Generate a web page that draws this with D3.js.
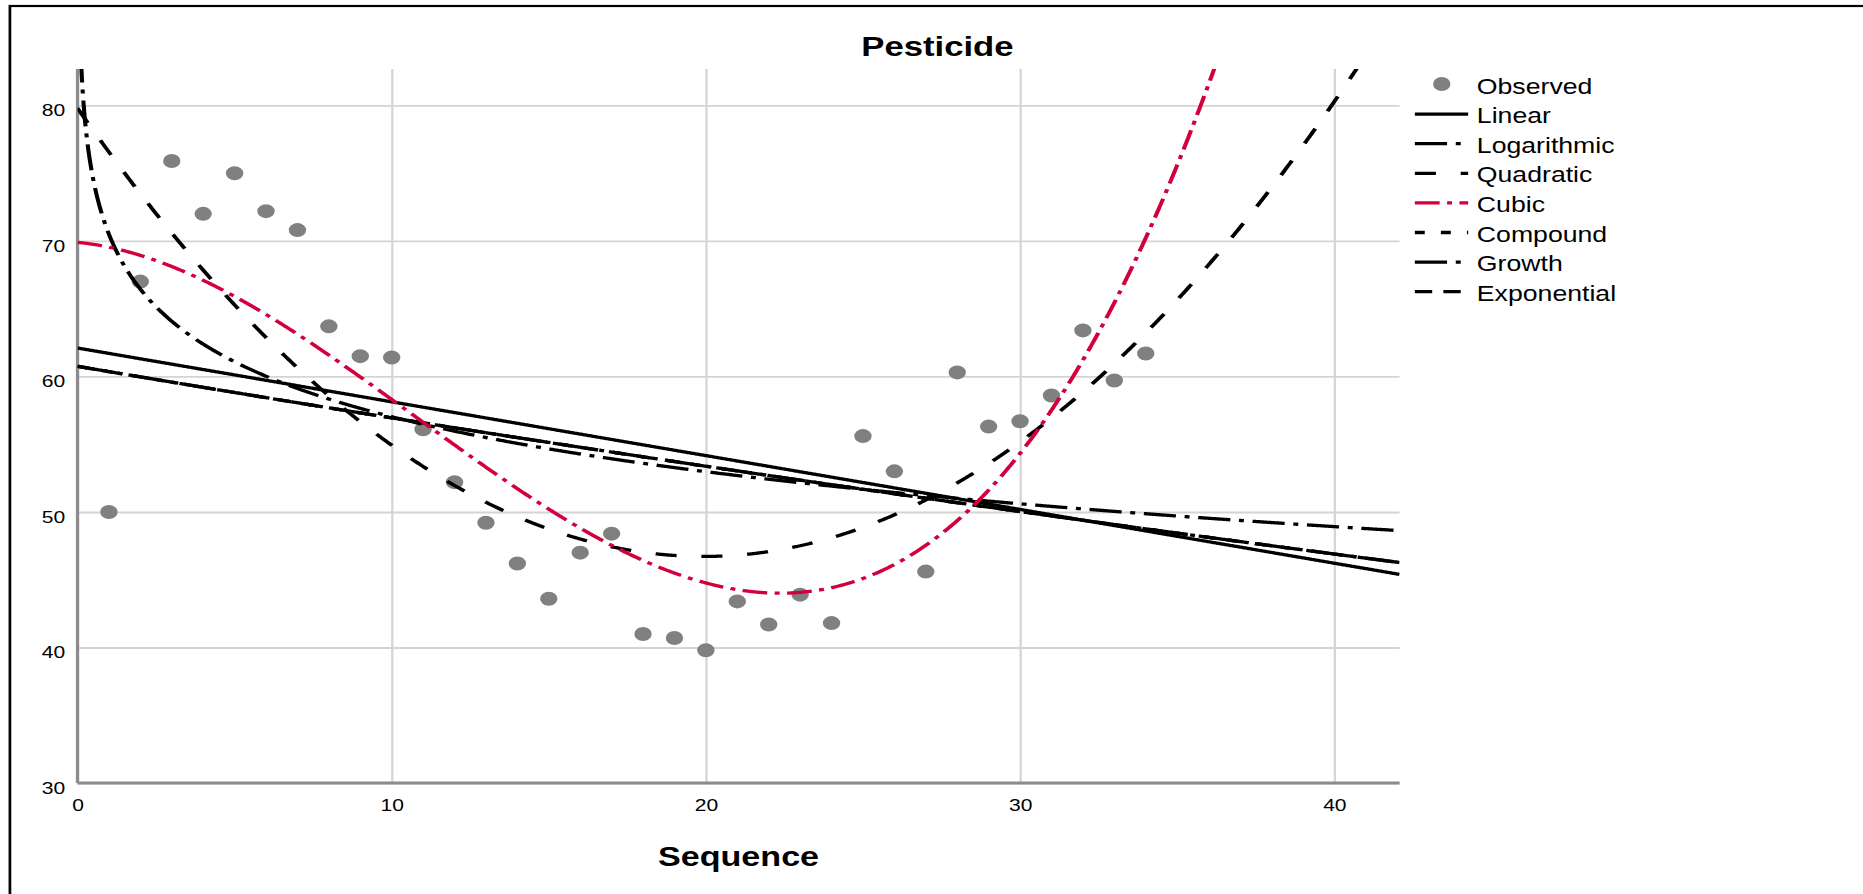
<!DOCTYPE html>
<html>
<head>
<meta charset="utf-8">
<title>Pesticide</title>
<script src="https://cdn.jsdelivr.net/npm/d3@7"></script>
<style>
    html, body { margin: 0; padding: 0; background: #fff; }
    #chart-area { width: 1863px; height: 894px; }
    svg text { font-family: Arial, "Liberation Sans", sans-serif; fill: #000; }
</style>
</head>
<body>
<div id="chart-area"></div>
<script>

// observed pesticide values, one per sequence step
const sequence = [1, 2, 3, 4, 5, 6, 7, 8, 9, 10, 11, 12, 13, 14, 15, 16, 17,
                  18, 19, 20, 21, 22, 23, 24, 25, 26, 27, 28, 29, 30, 31, 32, 33, 34];
const observed = [50.0, 67.0, 75.9, 72.0, 75.0, 72.2, 70.8, 63.7, 61.5, 61.4,
                  56.1, 52.2, 49.2, 46.2, 43.6, 47.0, 48.4, 41.0, 40.7, 39.8,
                  43.4, 41.7, 43.9, 41.8, 55.6, 53.0, 45.6, 60.3, 56.3, 56.7,
                  58.6, 63.4, 59.7, 61.7];

// curve estimation coefficients
const linearCoef = [62.1, -0.397];                      // b0 + b1*t
const logCoef = [70.5, -5.85];                          // b0 + b1*ln(t)
const quadraticCoef = [79.8, -3.32, 0.0833];            // b0 + b1*t + b2*t^2
const cubicCoef = [69.9, -0.228, -0.1349, 0.004173];    // b0 + b1*t + b2*t^2 + b3*t^3
const compoundCoef = [60.75, 0.99355];                  // b0 * b1^t
const growthCoef = [4.1068, -0.00647];                  // exp(b0 + b1*t)
const exponentialCoef = [60.75, -0.00647];              // b0 * exp(b1*t)

const models = ["Linear", "Logarithmic", "Quadratic", "Cubic", "Compound", "Growth", "Exponential"];
const xTicks = [0, 10, 20, 30, 40];
const yTicks = [30, 40, 50, 60, 70, 80];


class CurveFitChart {

    constructor(parentElement) {
        this.parentElement = parentElement;
        this.styles = {
            Linear: {color: "#000", dash: null},
            Logarithmic: {color: "#000", dash: "26,7,4,7"},
            Quadratic: {color: "#000", dash: "17,20"},
            Cubic: {color: "#d2003c", dash: "20,6,4,6"},
            Compound: {color: "#000", dash: "8,13"},
            Growth: {color: "#000", dash: "26,7,4,7"},
            Exponential: {color: "#000", dash: "14,9"}
        };

        this.initVis();
    }

    initVis() {
        let vis = this;

        vis.outerWidth = 1863;
        vis.outerHeight = 894;
        // the exported chart is stretched sideways, so draw in narrower units and let the viewBox widen it
        vis.stretch = 1.24;
        vis.viewWidth = vis.outerWidth / vis.stretch;

        vis.margin = {top: 69, right: vis.viewWidth - 1128.7, bottom: 111, left: 62.5};
        vis.width = vis.viewWidth - vis.margin.left - vis.margin.right;
        vis.height = vis.outerHeight - vis.margin.top - vis.margin.bottom;

        vis.root = d3.select("#" + vis.parentElement).append("svg")
            .attr("width", vis.outerWidth)
            .attr("height", vis.outerHeight)
            .attr("viewBox", `0 0 ${vis.viewWidth} ${vis.outerHeight}`)
            .attr("preserveAspectRatio", "none");

        // outer frame, only left and top edges fall inside the picture
        vis.root.append("rect")
            .attr("x", 8)
            .attr("y", 6)
            .attr("width", 3000)
            .attr("height", 3000)
            .attr("fill", "none")
            .attr("stroke", "#000")
            .attr("stroke-width", 2.2);

        vis.root.append("text")
            .attr("x", 756)
            .attr("y", 56.5)
            .attr("text-anchor", "middle")
            .attr("font-size", 28)
            .attr("font-weight", "bold")
            .text("Pesticide");

        vis.svg = vis.root.append("g")
            .attr("transform", `translate(${vis.margin.left}, ${vis.margin.top})`);

        vis.svg.append("clipPath")
            .attr("id", "plot-clip")
            .append("rect")
            .attr("width", vis.width)
            .attr("height", vis.height);

        // Scales and axes
        vis.x = d3.scaleLinear()
            .domain([0, 42.08])
            .range([0, vis.width]);
        vis.y = d3.scaleLinear()
            .domain([30, 82.69])
            .range([vis.height, 0]);

        vis.xAxis = d3.axisBottom(vis.x)
            .tickValues(xTicks)
            .tickFormat(d3.format("d"))
            .tickSize(-vis.height)
            .tickPadding(16);
        vis.yAxis = d3.axisLeft(vis.y)
            .tickValues(yTicks)
            .tickFormat(d3.format("d"))
            .tickSize(-vis.width)
            .tickPadding(10);

        vis.svg.append("g")
            .attr("class", "x-axis")
            .attr("transform", `translate(0, ${vis.height})`)
            .call(vis.xAxis);
        vis.svg.append("g")
            .attr("class", "y-axis")
            .call(vis.yAxis);

        vis.svg.selectAll(".x-axis .domain, .y-axis .domain").remove();
        vis.svg.selectAll(".x-axis .tick line, .y-axis .tick line")
            .attr("stroke", "#d4d4d4")
            .attr("stroke-width", 1.8);
        vis.svg.selectAll(".x-axis text, .y-axis text")
            .attr("font-size", 17)
            .attr("font-family", "Arial, 'Liberation Sans', sans-serif")
            .attr("fill", "#000");
        vis.svg.selectAll(".y-axis text").attr("dy", "0.6em");

        // left and bottom axis lines
        vis.svg.append("line")
            .attr("x1", vis.x(0)).attr("x2", vis.x(0))
            .attr("y1", 0).attr("y2", vis.height)
            .attr("stroke", "#8c8c8c").attr("stroke-width", 2.6);
        vis.svg.append("line")
            .attr("x1", vis.x(0)).attr("x2", vis.width)
            .attr("y1", vis.height).attr("y2", vis.height)
            .attr("stroke", "#8c8c8c").attr("stroke-width", 3);

        vis.svg.append("text")
            .attr("x", vis.width / 2)
            .attr("y", vis.height + 83)
            .attr("text-anchor", "middle")
            .attr("font-size", 27.5)
            .attr("font-weight", "bold")
            .text("Sequence");

        vis.wrangleData();
    }

    wrangleData() {
        let vis = this;

        vis.points = sequence.map((t, i) => ({t: t, value: observed[i]}));

        let fits = {
            Linear: t => linearCoef[0] + linearCoef[1] * t,
            Logarithmic: t => logCoef[0] + logCoef[1] * Math.log(t),
            Quadratic: t => quadraticCoef[0] + quadraticCoef[1] * t + quadraticCoef[2] * t * t,
            Cubic: t => cubicCoef[0] + cubicCoef[1] * t + cubicCoef[2] * t * t + cubicCoef[3] * t * t * t,
            Compound: t => compoundCoef[0] * Math.pow(compoundCoef[1], t),
            Growth: t => Math.exp(growthCoef[0] + growthCoef[1] * t),
            Exponential: t => exponentialCoef[0] * Math.exp(exponentialCoef[1] * t)
        };

        let tMax = vis.x.domain()[1];
        let steps = d3.range(0, 1201).map(i => tMax * i / 1200);

        vis.curves = models.map(name => ({
            name: name,
            values: steps.filter(t => name !== "Logarithmic" || t > 0)
                .map(t => ({t: t, value: fits[name](t)}))
        }));

        vis.updateVis();
    }

    updateVis() {
        let vis = this;

        vis.svg.selectAll(".obs")
            .data(vis.points)
            .enter().append("circle")
            .attr("class", "obs")
            .attr("cx", d => vis.x(d.t))
            .attr("cy", d => vis.y(d.value))
            .attr("r", 7)
            .attr("fill", "#808080");

        let line = d3.line()
            .x(d => vis.x(d.t))
            .y(d => vis.y(d.value));

        // red cubic goes on top, like in the export
        let drawOrder = vis.curves.filter(c => c.name !== "Cubic")
            .concat(vis.curves.filter(c => c.name === "Cubic"));

        vis.svg.append("g")
            .attr("clip-path", "url(#plot-clip)")
            .selectAll(".fit")
            .data(drawOrder)
            .enter().append("path")
            .attr("class", "fit")
            .attr("d", d => line(d.values))
            .attr("fill", "none")
            .attr("stroke", d => vis.styles[d.name].color)
            .attr("stroke-width", 3.3)
            .attr("stroke-dasharray", d => vis.styles[d.name].dash);

        // legend
        let legend = vis.root.append("g")
            .attr("transform", "translate(1141, 86)");
        let rowH = 29.6;

        legend.append("circle")
            .attr("cx", 21.7)
            .attr("cy", -2)
            .attr("r", 7)
            .attr("fill", "#808080");

        let labels = ["Observed"].concat(models);
        legend.selectAll(".legend-label")
            .data(labels)
            .enter().append("text")
            .attr("class", "legend-label")
            .attr("x", 50)
            .attr("y", (d, i) => i * rowH + 7.7)
            .attr("font-size", 21.5)
            .text(d => d);

        legend.selectAll(".legend-line")
            .data(models)
            .enter().append("line")
            .attr("class", "legend-line")
            .attr("x1", 0)
            .attr("x2", 43)
            .attr("y1", (d, i) => (i + 1) * rowH - 1.5)
            .attr("y2", (d, i) => (i + 1) * rowH - 1.5)
            .attr("stroke", d => vis.styles[d].color)
            .attr("stroke-width", 3.3)
            .attr("stroke-dasharray", d => vis.styles[d].dash);
    }
}

let chart = new CurveFitChart("chart-area");

</script>
</body>
</html>
